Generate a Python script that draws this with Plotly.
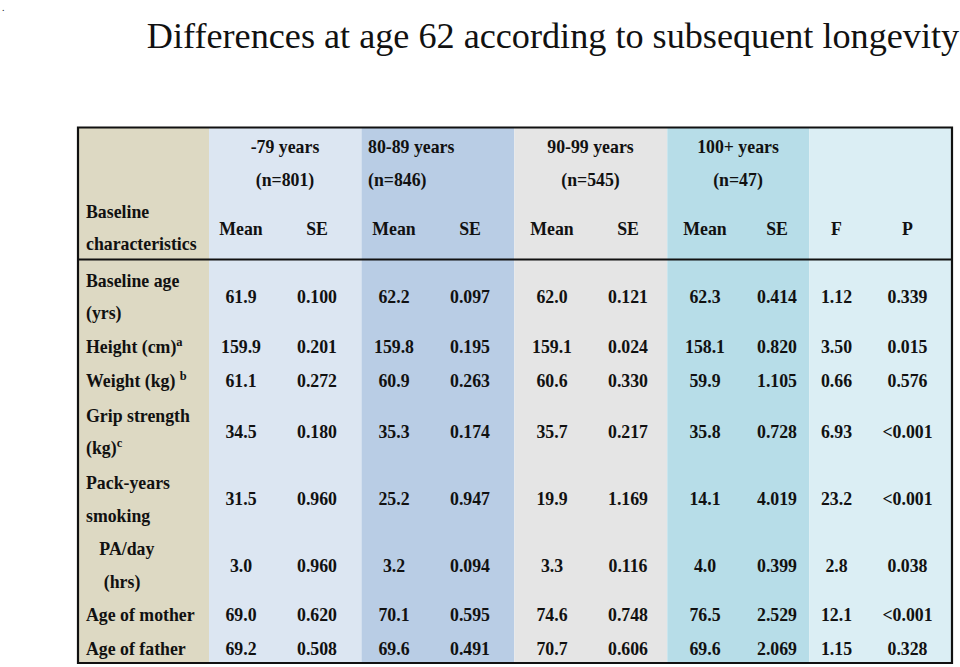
import plotly.graph_objects as go

# ---------------- data ----------------
title_text = "Differences at age 62 according to subsequent longevity"
groups = ["-79 years", "80-89 years", "90-99 years", "100+ years"]
group_n = ["(n=801)", "(n=846)", "(n=545)", "(n=47)"]
stat_headers = ["Mean", "SE", "Mean", "SE", "Mean", "SE", "Mean", "SE", "F", "P"]
label_header = ["Baseline", "characteristics"]
characteristics = [
    ["Baseline age", "(yrs)"],
    ["Height (cm)<sup>a</sup>"],
    ["Weight (kg) <sup>b</sup>"],
    ["Grip strength", "(kg)<sup>c</sup>"],
    ["Pack-years", "smoking"],
    ["\u00a0\u00a0\u00a0PA/day", "\u00a0\u00a0\u00a0\u00a0(hrs)"],
    ["Age of mother"],
    ["Age of father"],
]
mean_79 = [61.9, 159.9, 61.1, 34.5, 31.5, 3.0, 69.0, 69.2]
se_79 = [0.100, 0.201, 0.272, 0.180, 0.960, 0.960, 0.620, 0.508]
mean_80 = [62.2, 159.8, 60.9, 35.3, 25.2, 3.2, 70.1, 69.6]
se_80 = [0.097, 0.195, 0.263, 0.174, 0.947, 0.094, 0.595, 0.491]
mean_90 = [62.0, 159.1, 60.6, 35.7, 19.9, 3.3, 74.6, 70.7]
se_90 = [0.121, 0.024, 0.330, 0.217, 1.169, 0.116, 0.748, 0.606]
mean_100 = [62.3, 158.1, 59.9, 35.8, 14.1, 4.0, 76.5, 69.6]
se_100 = [0.414, 0.820, 1.105, 0.728, 4.019, 0.399, 2.529, 2.069]
f_stat = ["1.12", "3.50", "0.66", "6.93", "23.2", "2.8", "12.1", "1.15"]
p_value = ["0.339", "0.015", "0.576", "<0.001", "<0.001", "0.038", "<0.001", "0.328"]

# ---------------- layout geometry (pixel-like axis units) ----------------
W, H = 960, 667
TABLE_LEFT, TABLE_RIGHT, TABLE_TOP, TABLE_BOTTOM = 78, 952, 127.5, 663
HEADER_LINE_Y = 259.5
BAND_EDGES = [78, 209, 361.5, 514.3, 667.3, 809.3, 952]
BAND_COLORS = ["#DDD9C3", "#DCE6F2", "#B9CDE5", "#E5E5E5", "#B7DDE8", "#DBEEF4"]
LABEL_X = 86
COL_X = [241, 317, 394, 470, 552, 628, 705, 777, 836.5, 907.5]
GROUP_X = [285, 368, 590.5, 738]
GROUP_ANCHOR = ["middle center", "middle right", "middle center", "middle center"]
DY = 2  # vertical text baseline correction
HDR_Y1, HDR_Y2, HDR_STAT_Y = 147 + DY, 180 + DY, 229 + DY
HDR_LABEL_Y = [212 + DY, 244 + DY]
ROW_Y = [y + DY for y in [296.5, 346.7, 380.7, 431.7, 499, 565.3, 615, 648.3]]
LINE_HALF = 16.3

FONT = "Liberation Serif, Times New Roman, serif"
FS = 17.8
TXT = "#111111"

fig = go.Figure()

def text_trace(xs, ys, texts, pos="middle center"):
    fig.add_trace(go.Scatter(
        x=xs, y=ys, text=texts, mode="text", textposition=pos,
        textfont=dict(family=FONT, size=FS, color=TXT, weight="bold"),
        hoverinfo="skip", showlegend=False, cliponaxis=False))

# group headers
for g, n, gx, anc in zip(groups, group_n, GROUP_X, GROUP_ANCHOR):
    text_trace([gx, gx], [HDR_Y1, HDR_Y2], [g, n], anc)

# stat headers
text_trace(COL_X, [HDR_STAT_Y] * len(COL_X), stat_headers)
# label header
text_trace([LABEL_X] * 2, HDR_LABEL_Y, label_header, "middle right")

# row labels
lx, ly, lt = [], [], []
for lines, yc in zip(characteristics, ROW_Y):
    if len(lines) == 1:
        lx.append(LABEL_X); ly.append(yc); lt.append(lines[0])
    else:
        lx += [LABEL_X, LABEL_X]
        ly += [yc - LINE_HALF, yc + LINE_HALF]
        lt += lines
text_trace(lx, ly, lt, "middle right")

# value columns
columns = [
    [f"{v:.1f}" for v in mean_79], [f"{v:.3f}" for v in se_79],
    [f"{v:.1f}" for v in mean_80], [f"{v:.3f}" for v in se_80],
    [f"{v:.1f}" for v in mean_90], [f"{v:.3f}" for v in se_90],
    [f"{v:.1f}" for v in mean_100], [f"{v:.3f}" for v in se_100],
    f_stat, p_value,
]
for cx, col in zip(COL_X, columns):
    text_trace([cx] * len(col), ROW_Y, col)

# background bands
shapes = []
for x0, x1, c in zip(BAND_EDGES[:-1], BAND_EDGES[1:], BAND_COLORS):
    shapes.append(dict(type="rect", xref="x", yref="y", x0=x0, x1=x1,
                       y0=TABLE_TOP, y1=TABLE_BOTTOM, fillcolor=c,
                       line=dict(width=0), layer="below"))
shapes.append(dict(type="line", xref="x", yref="y", x0=TABLE_LEFT, x1=TABLE_RIGHT,
                   y0=HEADER_LINE_Y, y1=HEADER_LINE_Y,
                   line=dict(color="#111111", width=2.2), layer="above"))
shapes.append(dict(type="rect", xref="x", yref="y", x0=TABLE_LEFT, x1=TABLE_RIGHT,
                   y0=TABLE_TOP, y1=TABLE_BOTTOM, fillcolor="rgba(0,0,0,0)",
                   line=dict(color="#111111", width=2.2), layer="above"))

fig.update_layout(
    width=W, height=H,
    margin=dict(l=0, r=0, t=0, b=0),
    paper_bgcolor="white", plot_bgcolor="white",
    xaxis=dict(range=[0, W], visible=False, fixedrange=True),
    yaxis=dict(range=[H, 0], visible=False, fixedrange=True),
    shapes=shapes,
    title=dict(text=title_text, x=553 / W, xanchor="center", xref="paper",
               y=1 - 35 / H, yanchor="middle", yref="container",
               font=dict(family=FONT, size=36.2, color=TXT)),
    annotations=[dict(text=".", x=0, y=1, xref="paper", yref="paper",
                      xanchor="left", yanchor="top", showarrow=False,
                      font=dict(family=FONT, size=10, color=TXT))],
)

fig.write_html("out.html", config={"displayModeBar": False},
               post_script="document.body.style.margin='0';")
